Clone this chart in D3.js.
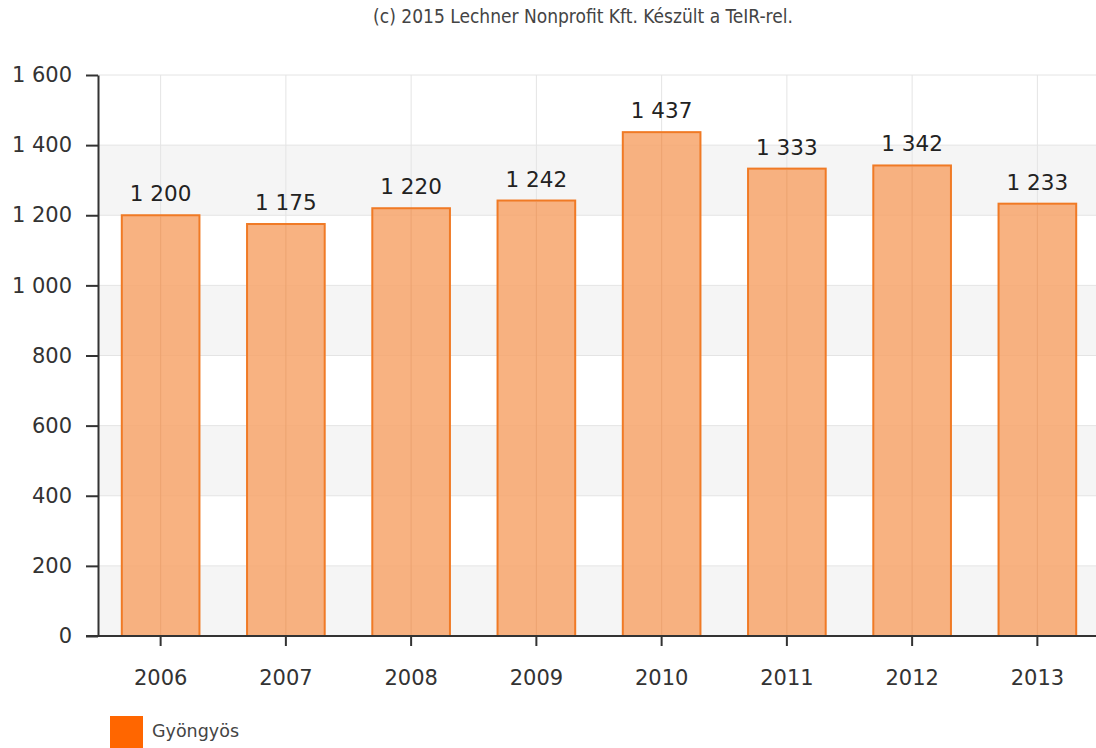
<!DOCTYPE html>
<html><head><meta charset="utf-8">
<script src="https://cdn.jsdelivr.net/npm/d3@7"></script>
<style>body{margin:0;background:#fff;}svg{display:block;font-family:"DejaVu Sans",Verdana,sans-serif;}</style>
</head><body>
<svg id="c" width="1096" height="748"></svg>
<script>
const categories = ["2006","2007","2008","2009","2010","2011","2012","2013"];
const values = [1200,1175,1220,1242,1437,1333,1342,1233];
const yTicks = [0,200,400,600,800,1000,1200,1400,1600];
const seriesName = "Gyöngyös";
const title = "(c) 2015 Lechner Nonprofit Kft. Készült a TeIR-rel.";

const svg = d3.select("#c");
const m = {left:98, right:-4, top:75, bottom:112};
const W = 1096, H = 748;
const x = d3.scaleBand().domain(categories).range([m.left, W - m.right]).paddingInner(0.38).paddingOuter(0.19);
const y = d3.scaleLinear().domain([0,1600]).range([H - m.bottom, m.top]);
const fmt = v => d3.format(",")(v).replace(/,/g, " ");

svg.append("text").attr("x", 583).attr("y", 23).attr("text-anchor","middle")
  .style("font-family","'DejaVu Sans Condensed','DejaVu Sans',sans-serif").style("font-size","19px").attr("fill","#444").text(title);

// bands
const g = svg.append("g");
for (let i = 0; i < yTicks.length - 1; i += 2) {
  g.append("rect").attr("x", m.left).attr("width", W - m.left)
    .attr("y", y(yTicks[i+1])).attr("height", y(yTicks[i]) - y(yTicks[i+1])).attr("fill","#f5f5f5");
}
// horizontal grid
g.selectAll("line.h").data(yTicks).join("line").attr("x1", m.left).attr("x2", W)
  .attr("y1", d => y(d)).attr("y2", d => y(d)).attr("stroke","#e4e4e4").attr("stroke-width",1);
// vertical grid
g.selectAll("line.v").data(categories).join("line")
  .attr("x1", d => x(d) + x.bandwidth()/2).attr("x2", d => x(d) + x.bandwidth()/2)
  .attr("y1", y(1600)).attr("y2", y(0)).attr("stroke","#e4e4e4");

// bars
svg.selectAll("rect.bar").data(values).join("rect").attr("class","bar")
  .attr("x", (d,i) => x(categories[i])).attr("width", x.bandwidth())
  .attr("y", d => y(d)).attr("height", d => y(0) - y(d))
  .attr("fill","#f7a46b").attr("fill-opacity",0.85).attr("stroke","#f07a25").attr("stroke-width",2);
svg.selectAll("line.vb").data(values).join("line")
  .attr("x1",(d,i)=>x(categories[i])+x.bandwidth()/2).attr("x2",(d,i)=>x(categories[i])+x.bandwidth()/2)
  .attr("y1", d => y(d)+1).attr("y2", y(0)).attr("stroke","#e79a66").attr("stroke-opacity",0.5);

// value labels
svg.selectAll("text.val").data(values).join("text")
  .attr("x",(d,i)=>x(categories[i])+x.bandwidth()/2).attr("y", d => y(d) - 14)
  .attr("text-anchor","middle").attr("fill","#222").style("font-size","21.5px").text(d => fmt(d));

// y axis
const ya = svg.append("g").attr("transform",`translate(${m.left},0)`)
  .call(d3.axisLeft(y).tickValues(yTicks).tickFormat(fmt).tickSize(12).tickSizeOuter(0).tickPadding(14));
ya.select(".domain").attr("stroke","#333").attr("stroke-width",2);
ya.selectAll(".tick line").attr("stroke","#333").attr("stroke-width",2);
ya.selectAll("text").style("font-size","21px").attr("fill","#333").style("font-family","'DejaVu Sans',sans-serif");

// x axis
const xa = svg.append("g").attr("transform",`translate(0,${y(0)})`)
  .call(d3.axisBottom(x).tickSize(10).tickSizeOuter(0).tickPadding(24));
xa.select(".domain").attr("d", `M${m.left-12},0H${W}`).attr("stroke","#333").attr("stroke-width",2);
xa.selectAll(".tick line").attr("stroke","#333").attr("stroke-width",2);
xa.selectAll("text").style("font-size","21px").attr("fill","#333").style("font-family","'DejaVu Sans',sans-serif");

// legend
svg.append("rect").attr("x",110).attr("y",716).attr("width",33).attr("height",34).attr("fill","#ff6600");
svg.append("text").attr("x",152).attr("y",737).style("font-size","17.5px").attr("fill","#444")
  .style("font-family","'DejaVu Sans',sans-serif").text(seriesName);
</script>
</body></html>
